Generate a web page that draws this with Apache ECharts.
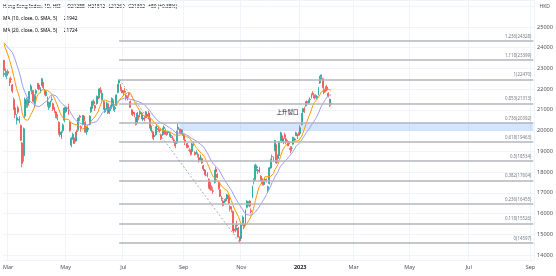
<!DOCTYPE html>
<html><head><meta charset="utf-8">
<script src="https://cdn.jsdelivr.net/npm/echarts@6/dist/echarts.min.js"></script>
<style>html,body{margin:0;padding:0;background:#fff}#c{width:556px;height:276px}</style>
</head><body><div id="c"></div>
<script>
// closes before the visible window (only used to warm up the moving averages)
const preCloses = [24952,24966,24656,24243,24289,23807,23550,23802,24579,24329,24830,24924,24906,24556,24355,24718,24792,24327,24170,23520,23660];

// daily bars: [day, open, high, low, close]
const feb22 = [[24,23390,23420,22597,22901],[25,22700,23000,22590,22767],[28,22700,22880,22480,22713]];
const mar22 = [[1,22850,22950,22650,22761],[2,22400,22550,22150,22344],[3,22500,22600,22300,22467],[4,22200,22250,21800,21905],[7,21500,21600,21000,21057],[8,21100,21250,20600,20765],[9,20500,20800,20300,20627],[10,21100,21200,20800,20890],[11,20500,20700,20350,20554],[14,20250,20300,19500,19531],[15,19400,19450,18235,18415],[16,18800,20150,18500,20087],[17,20700,21600,20600,21501],[18,21300,21600,21100,21412],[21,21450,21550,21100,21221],[22,21350,21900,21300,21889],[23,22000,22250,21900,22154],[24,21900,22050,21750,21946],[25,21900,21950,21350,21404],[28,21300,21750,21100,21684],[29,21800,22000,21700,21928],[30,22100,22300,22000,22232],[31,22200,22300,21950,21997]];
const apr22 = [[1,21900,22100,21800,22039],[4,22200,22540,22150,22502],[6,22300,22350,22000,22080],[7,21900,22000,21700,21808],[8,21700,21950,21650,21872],[11,21600,21650,21150,21208],[12,21100,21400,21000,21319],[13,21300,21450,21150,21374],[14,21500,21650,21400,21518],[19,21300,21350,20950,21027],[20,21100,21150,20850,20944],[21,20900,20950,20600,20683],[22,20600,20800,20500,20638],[25,20400,20450,19800,19869],[26,19800,20050,19700,19934],[27,19700,20000,19600,19946],[28,20000,20350,19900,20276],[29,20500,21150,20400,21089]];
const may22 = [[3,20950,21150,20850,21101],[4,21050,21150,20900,21068],[5,21200,21300,20750,20793],[6,20400,20450,19950,20002],[10,19300,19700,19200,19633],[11,19650,19900,19550,19824],[12,19650,19700,19350,19380],[13,19500,19950,19450,19899],[16,20000,20050,19800,19950],[17,20050,20650,20000,20602],[18,20700,20750,20450,20644],[19,20200,20250,19950,20120],[20,20300,20750,20250,20717],[23,20700,20750,20400,20471],[24,20400,20450,19900,19924],[25,19950,20200,19800,20171],[26,20050,20200,19950,20116],[27,20300,20750,20250,20697],[30,20900,21150,20850,21123],[31,21100,21450,21050,21415]];
const jun22 = [[1,21400,21500,21200,21294],[2,21200,21250,20950,21082],[6,21300,21700,21250,21653],[7,21600,21650,21350,21532],[8,21600,22050,21550,22014],[9,21950,22100,21800,21869],[10,21500,21850,21450,21806],[13,21400,21450,21000,21067],[14,20900,21150,20850,21068],[15,21100,21400,21000,21308],[16,21300,21350,20800,20845],[17,20900,21150,20800,21075],[20,21050,21250,20950,21163],[21,21200,21600,21150,21559],[22,21450,21500,20950,21008],[23,21050,21200,20900,21120],[24,21250,21750,21200,21719],[27,21850,22250,21800,22229],[28,22300,22470,22150,22418],[29,22200,22250,21900,21996],[30,21950,22100,21800,21860]];
const jul22 = [[4,21900,21950,21700,21830],[5,21900,22050,21800,21853],[6,21700,21750,21450,21587],[7,21500,21700,21450,21643],[8,21750,21850,21600,21725],[11,21400,21450,21100,21124],[12,21000,21050,20750,20844],[13,20900,21000,20700,20797],[14,20850,20900,20650,20751],[15,20600,20650,20250,20297],[18,20400,20900,20350,20846],[19,20700,20750,20500,20661],[20,20800,20950,20700,20890],[21,20850,20900,20550,20575],[22,20550,20700,20450,20609],[25,20600,20700,20450,20562],[26,20650,20950,20600,20906],[27,20800,20850,20600,20670],[28,20850,20950,20550,20622],[29,20600,20650,20100,20157]];
const aug22 = [[1,20000,20250,19900,20165],[2,19950,20000,19600,19689],[3,19700,19850,19550,19767],[4,19800,20200,19750,20174],[5,20200,20300,20100,20202],[8,20100,20200,19950,20045],[9,20050,20100,19900,20003],[10,19800,19850,19550,19610],[11,19800,20150,19750,20082],[12,20100,20250,20050,20175],[15,20000,20100,19800,19830],[16,19850,19950,19750,19830],[17,19900,20000,19800,19922],[18,19850,19950,19700,19763],[19,19750,19850,19650,19773],[22,19700,19750,19550,19657],[23,19550,19650,19400,19503],[24,19450,19500,19150,19268],[25,19400,20000,19350,19968],[26,20050,20350,20000,20170],[29,20000,20100,19850,20023],[30,20050,20100,19850,19949],[31,19850,20050,19750,19954]];
const sep22 = [[1,19800,19850,19550,19597],[2,19550,19600,19300,19452],[5,19350,19400,19150,19225],[6,19300,19400,19150,19202],[7,19050,19150,18950,19044],[8,19050,19100,18800,18854],[9,19000,19400,18950,19362],[13,19400,19450,19250,19326],[14,18950,19000,18800,18847],[15,18900,19050,18850,18930],[16,18850,18950,18700,18762],[19,18700,18750,18450,18566],[20,18600,18850,18550,18781],[21,18650,18700,18400,18444],[22,18300,18350,18050,18147],[23,18100,18150,17850,17933],[26,17850,18050,17800,17855],[27,17900,18000,17750,17860],[28,17650,17700,17200,17250],[29,17400,17550,17100,17165],[30,17250,17350,17100,17223]];
const oct22 = [[3,17100,17200,16950,17079],[5,17500,18100,17450,18088],[6,18150,18250,17950,18012],[7,17900,17950,17700,17740],[10,17500,17550,17150,17216],[11,17150,17200,16800,16832],[12,16750,16850,16600,16701],[13,16600,16650,16350,16389],[14,16550,16700,16500,16587],[17,16650,16750,16550,16612],[18,16700,16950,16650,16914],[19,16850,16900,16450,16511],[20,16350,16400,16100,16280],[21,16300,16350,16050,16211],[24,16100,16150,15150,15180],[25,15250,15400,15050,15165],[26,15200,15450,15100,15317],[27,15450,15650,15350,15428],[28,15300,15350,14850,14863],[31,14850,14900,14597,14687]];
const nov22 = [[1,14800,15500,14750,15455],[2,15550,15900,15450,15827],[3,15500,15550,15250,15339],[4,15450,16200,15400,16161],[7,16300,16650,16250,16595],[8,16550,16600,16350,16557],[9,16600,16650,16300,16359],[10,16150,16250,16000,16081],[11,16800,17350,16750,17325],[14,17550,17700,17400,17619],[15,17650,18400,17600,18343],[16,18200,18350,18050,18256],[17,18100,18150,17900,18046],[18,18200,18250,17950,17993],[21,17800,17850,17550,17656],[22,17650,17700,17350,17424],[23,17400,17600,17350,17524],[24,17600,17750,17550,17661],[25,17650,17700,17500,17574],[28,17100,17350,17000,17298],[29,17450,18250,17400,18204],[30,18200,18650,18150,18597]];
const dec22 = [[1,18750,18850,18550,18736],[2,18650,18750,18500,18675],[5,19050,19550,19000,19519],[6,19300,19350,18400,18441],[7,18650,18850,18450,18815],[8,18800,19500,18750,19450],[9,19550,19950,19500,19901],[12,19750,19800,19400,19463],[13,19500,19650,19350,19596],[14,19800,19900,19600,19673],[15,19600,19650,19350,19450],[16,19300,19550,19250,19450],[19,19450,19500,19250,19352],[20,19150,19250,18900,19094],[21,19150,19250,19000,19160],[22,19350,19700,19300,19679],[23,19550,19650,19450,19593],[28,19800,19950,19750,19898],[29,19800,19850,19600,19741],[30,19850,19950,19750,19781]];
const jan23 = [[3,19850,20250,19800,20145],[4,20300,20850,20250,20793],[5,20900,21100,20800,21052],[6,21050,21150,20850,20991],[9,21200,21400,21150,21388],[10,21400,21450,21250,21331],[11,21350,21500,21250,21436],[12,21500,21600,21400,21514],[13,21600,21800,21550,21738],[16,21800,21900,21700,21746],[17,21700,21750,21500,21577],[18,21650,21750,21550,21678],[19,21600,21700,21500,21651],[20,21750,22100,21700,22044],[26,22300,22650,22250,22566],[27,22600,22700,22450,22689],[30,22500,22550,22050,22069],[31,22000,22050,21750,21842]];
const feb23 = [[1,21900,22150,21850,22072],[2,22100,22200,21900,21958],[3,21800,21850,21600,21660],[6,21500,21550,21150,21222],[7,21288,21512,21269,21302]];

const monthBlocks = [[2022,2,feb22],[2022,3,mar22],[2022,4,apr22],[2022,5,may22],[2022,6,jun22],[2022,7,jul22],[2022,8,aug22],[2022,9,sep22],[2022,10,oct22],[2022,11,nov22],[2022,12,dec22],[2023,1,jan23],[2023,2,feb23]];

// exchange holidays in the projected (empty) part of the time scale
const futureHolidays = ['2023-04-05','2023-04-07','2023-04-10','2023-05-01','2023-05-26','2023-06-22'];
const futureEnd = '2023-09-05';

// Fibonacci retracement drawn from the Jun-28 high to the Oct-31 low
const fibHigh = 22470, fibLow = 14597;
const fibStart = '2022-06-28', fibLowDate = '2022-10-31';
const fibLevels = [0, 0.118, 0.236, 0.382, 0.5, 0.618, 0.736, 0.853, 1, 1.118, 1.236];
const gapZone = [19990, 20391];
const gapStart = '2022-08-29';
const noteText = '上升裂口', noteDate = '2022-12-16', noteValue = 20900;
const monthNames = ['Jan','Feb','Mar','Apr','May','Jun','Jul','Aug','Sep','Oct','Nov','Dec'];

const pad = n => (n < 10 ? '0' : '') + n;
const dates = [], ohlc = [], closes = [];
monthBlocks.forEach(([y, m, rows]) => rows.forEach(([d, o, h, l, c]) => {
  dates.push(y + '-' + pad(m) + '-' + pad(d));
  ohlc.push([o, c, l, h]);
  closes.push(c);
}));
const lastIdx = dates.length - 1;
// future weekdays on the time scale
{
  const p = dates[lastIdx].split('-').map(Number);
  let t = Date.UTC(p[0], p[1] - 1, p[2]) + 864e5;
  while (true) {
    const dt = new Date(t);
    const s = dt.getUTCFullYear() + '-' + pad(dt.getUTCMonth() + 1) + '-' + pad(dt.getUTCDate());
    if (s > futureEnd) break;
    const wd = dt.getUTCDay();
    if (wd !== 0 && wd !== 6 && futureHolidays.indexOf(s) < 0) dates.push(s);
    t += 864e5;
  }
}
const allCloses = preCloses.concat(closes);
function sma(n) {
  return closes.map((_, i) => {
    const j = i + preCloses.length; let s = 0;
    for (let k = j - n + 1; k <= j; k++) s += allCloses[k];
    return +(s / n).toFixed(2);
  });
}
const ma10 = sma(10), ma20 = sma(20);

function isLabelBar(i) {
  if (i === 0) return false;
  const m = dates[i].slice(5, 7);
  return m !== dates[i - 1].slice(5, 7) && (+m) % 2 === 1;
}

const UP = '#26a69a', DOWN = '#ef5350';
const FONT = '"Noto Sans", Roboto, "Noto Sans CJK SC", sans-serif';
const last = ohlc[lastIdx];
const prevClose = closes[lastIdx - 1];
const chg = last[1] - prevClose;
const pct = (chg / prevClose * 100).toFixed(2);
const lastColor = last[1] >= last[0] ? UP : DOWN;
const sgn = v => (v >= 0 ? '+' : '') + v;

const fibLines = fibLevels.map(lv => {
  const v = fibLow + lv * (fibHigh - fibLow);
  return [
    { coord: [fibStart, v], label: { formatter: lv + '(' + Math.round(v) + ')' } },
    { coord: [dates[dates.length - 1], v] }
  ];
});

const LS = 4.8;
const chart = echarts.init(document.getElementById('c'));
chart.setOption({
  animation: false,
  backgroundColor: '#ffffff',
  textStyle: { fontFamily: FONT },
  grid: { left: -1, width: 535, top: 0, height: 260, containLabel: false },
  xAxis: {
    type: 'category', data: dates, boundaryGap: true,
    axisLine: { show: false }, axisTick: { show: false },
    axisLabel: {
      interval: (i) => isLabelBar(i),
      formatter: (v) => { const m = +v.slice(5, 7); return m === 1 ? '{b|' + v.slice(0, 4) + '}' : monthNames[m - 1]; },
      color: '#50535e', fontSize: 5.5, margin: 5, fontFamily: FONT,
      rich: { b: { fontWeight: 'bold', color: '#131722', fontSize: 5.5, fontFamily: FONT } }
    },
    splitLine: { show: true, interval: (i) => isLabelBar(i), lineStyle: { color: '#f0f3fa', width: 1 } }
  },
  yAxis: {
    type: 'value', position: 'right', min: 13759, max: 26302, splitNumber: 12, scale: true,
    axisLine: { show: false }, axisTick: { show: false },
    axisLabel: {
      showMinLabel: false, showMaxLabel: false,
      formatter: v => (v % 1000 === 0 && v <= 25000 ? String(v) : ''),
      color: '#50535e', fontSize: 5.6, margin: 3, fontFamily: FONT
    },
    splitLine: { lineStyle: { color: '#f0f3fa', width: 1 } }
  },
  graphic: [
    {
      type: 'text', left: 3, top: 1, silent: true,
      style: {
        text: '{t|Hang Seng Index, 1D, HSI}  {k|O}{v|' + last[0] + '} {k|H}{v|' + last[3] + '} {k|L}{v|' + last[2] + '} {k|C}{v|' + last[1] + '} {v|' + sgn(chg) + ' (' + sgn(+pct) + '%)}\n' +
              '{t|MA (10, close, 0, SMA, 5)}  {o|' + Math.round(ma10[lastIdx]) + '}\n' +
              '{t|MA (20, close, 0, SMA, 5)}  {p|' + Math.round(ma20[lastIdx]) + '}',
        rich: {
          t: { fontSize: LS, color: '#131722', fontFamily: FONT, lineHeight: 7 },
          k: { fontSize: LS, color: '#131722', fontFamily: FONT, lineHeight: 7 },
          v: { fontSize: LS, color: lastColor, fontFamily: FONT, lineHeight: 7 },
          o: { fontSize: LS, color: '#ff9800', fontFamily: FONT, lineHeight: 7 },
          p: { fontSize: LS, color: '#2962ff', fontFamily: FONT, lineHeight: 7 }
        }
      }
    },
    { type: 'text', right: 6, top: 4, silent: true, style: { text: 'HKD', fontSize: 5, fill: '#50535e', fontFamily: FONT } }
  ],
  series: [
    {
      type: 'candlestick', data: ohlc, barWidth: 1.4, silent: true,
      itemStyle: { color: UP, color0: DOWN, borderColor: UP, borderColor0: DOWN, borderWidth: 0.8 },
      markArea: {
        silent: true,
        itemStyle: { color: 'rgba(41,128,255,0.2)' },
        data: [[{ coord: [gapStart, gapZone[1]] }, { coord: [dates[dates.length - 1], gapZone[0]] }]]
      },
      markLine: {
        silent: true, symbol: ['none', 'none'], animation: false,
        lineStyle: { color: '#b4b6bc', width: 1.5, type: 'solid' },
        label: { show: true, position: 'insideEndTop', fontSize: 4.4, color: '#787b86', distance: 2, fontFamily: FONT },
        data: fibLines.concat([
          [
            { coord: [fibStart, fibHigh], lineStyle: { color: '#9598a1', width: 0.8, type: [2, 2] }, label: { show: false } },
            { coord: [fibLowDate, fibLow] }
          ],
          {
            yAxis: ma20[lastIdx], lineStyle: { opacity: 0 },
            label: { show: true, position: 'end', distance: 0, formatter: String(Math.round(ma20[lastIdx])), backgroundColor: '#2962ff', color: '#ffffff', fontSize: 5.5, padding: [2, 4, 1, 4], fontFamily: FONT }
          }
        ])
      },
      markPoint: {
        silent: true, symbol: 'circle', symbolSize: 0.1, itemStyle: { color: 'rgba(0,0,0,0)' },
        label: { show: true, position: 'inside', formatter: noteText, color: '#131722', fontSize: 5.5, fontFamily: '"Noto Sans CJK SC", sans-serif' },
        data: [{ coord: [noteDate, noteValue] }]
      }
    },
    { type: 'line', data: ma10, showSymbol: false, silent: true, lineStyle: { color: '#ff9800', width: 1 }, z: 3 },
    { type: 'line', data: ma20, showSymbol: false, silent: true, lineStyle: { color: '#9a9ef6', width: 1 }, z: 3 }
  ]
});
</script></body></html>
